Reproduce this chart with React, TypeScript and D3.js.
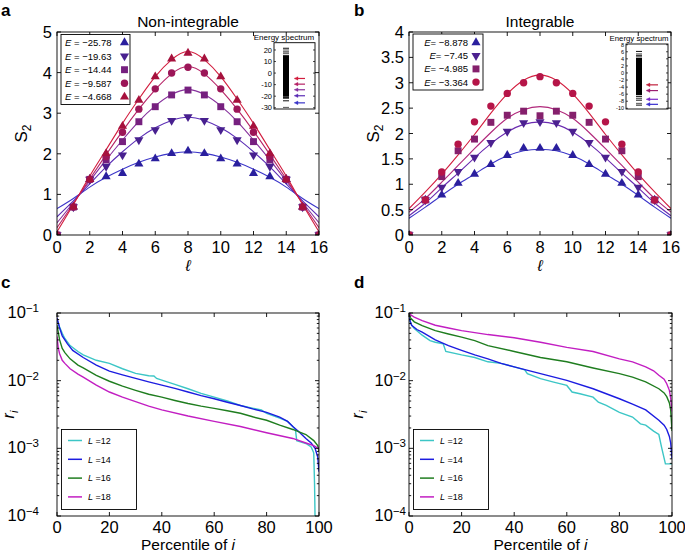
import React from 'react';
import * as d3 from 'd3';

const FONT = '"Liberation Sans", Arial, Helvetica, sans-serif';

// ---------------- data ----------------
const ellValues = [0, 1, 2, 3, 4, 5, 6, 7, 8, 9, 10, 11, 12, 13, 14, 15, 16];

// panel a (non-integrable)
const nonIntEnergyLabels = ['−25.78', '−19.63', '−14.44', '−9.587', '−4.668'];
const nonIntEnergies = [-25.78, -19.63, -14.44, -9.587, -4.668];
const nonIntPoints = [
  [0, 0.69, 1.37, 1.44, 1.52, 1.75, 1.88, 2.01, 2.07, 2.01, 1.88, 1.75, 1.52, 1.44, 1.37, 0.69, 0],
  [0, 0.69, 1.37, 1.69, 1.97, 2.34, 2.59, 2.82, 2.91, 2.82, 2.59, 2.34, 1.97, 1.69, 1.37, 0.69, 0],
  [0, 0.69, 1.37, 1.85, 2.30, 2.79, 3.16, 3.45, 3.57, 3.45, 3.16, 2.79, 2.30, 1.85, 1.37, 0.69, 0],
  [0, 0.69, 1.37, 1.93, 2.53, 3.10, 3.60, 3.99, 4.13, 3.99, 3.60, 3.10, 2.53, 1.93, 1.37, 0.69, 0],
  [0, 0.69, 1.37, 2.01, 2.68, 3.32, 3.90, 4.34, 4.48, 4.34, 3.90, 3.32, 2.68, 2.01, 1.37, 0.69, 0],
];
const nonIntFits = [
  [0.65, 0.90, 1.18, 1.42, 1.62, 1.79, 1.92, 2.01, 2.05, 2.01, 1.92, 1.79, 1.62, 1.42, 1.18, 0.90, 0.65],
  [0.45, 0.84, 1.26, 1.68, 2.05, 2.38, 2.64, 2.82, 2.90, 2.82, 2.64, 2.38, 2.05, 1.68, 1.26, 0.84, 0.45],
  [0.30, 0.80, 1.33, 1.85, 2.34, 2.80, 3.18, 3.46, 3.58, 3.46, 3.18, 2.80, 2.34, 1.85, 1.33, 0.80, 0.30],
  [0.18, 0.77, 1.38, 1.98, 2.56, 3.10, 3.58, 3.97, 4.15, 3.97, 3.58, 3.10, 2.56, 1.98, 1.38, 0.77, 0.18],
  [0.08, 0.75, 1.45, 2.10, 2.75, 3.35, 3.90, 4.32, 4.52, 4.32, 3.90, 3.35, 2.75, 2.10, 1.45, 0.75, 0.08],
];
const nonIntMarkers = ['up', 'down', 'square', 'circle', 'up'];
const nonIntMarkerColors = ['#2a1f9e', '#48208f', '#76207f', '#9c1658', '#a6113d'];
const nonIntLineColors = ['#3b35c9', '#5a2cb5', '#86309c', '#b62366', '#d21d3e'];
const nonIntSpectrumBand = [-20.5, 15.5];
const nonIntSpectrumLevels = [21.5, 20, 18.3, 16.8, -21.2, -22, -24, -29.7];
const nonIntInsetTicks = [20, 10, 0, -10, -20, -30];

// panel b (integrable)
const intEnergyLabels = ['−8.878', '−7.45', '−4.985', '−3.364'];
const intEnergies = [-8.878, -7.45, -4.985, -3.364];
const intPoints = [
  [0, 0.69, 0.79, 1.02, 1.20, 1.39, 1.57, 1.71, 1.71, 1.71, 1.57, 1.39, 1.20, 1.02, 0.79, 0.69, 0],
  [0, 0.69, 0.94, 1.25, 1.53, 1.82, 2.04, 2.21, 2.23, 2.21, 2.04, 1.82, 1.53, 1.25, 0.94, 0.69, 0],
  [0, 0.69, 1.15, 1.66, 1.89, 2.22, 2.36, 2.44, 2.35, 2.44, 2.36, 2.22, 1.89, 1.66, 1.15, 0.69, 0],
  [0, 0.69, 1.24, 1.79, 2.23, 2.54, 2.79, 3.00, 3.12, 3.00, 2.79, 2.54, 2.23, 1.79, 1.24, 0.69, 0],
];
const intFits = [
  [0.33, 0.55, 0.78, 1.00, 1.20, 1.40, 1.56, 1.66, 1.69, 1.66, 1.56, 1.40, 1.20, 1.00, 0.78, 0.55, 0.33],
  [0.38, 0.63, 0.93, 1.22, 1.52, 1.80, 2.03, 2.18, 2.23, 2.18, 2.03, 1.80, 1.52, 1.22, 0.93, 0.63, 0.38],
  [0.45, 0.72, 1.04, 1.37, 1.70, 2.02, 2.30, 2.47, 2.53, 2.47, 2.30, 2.02, 1.70, 1.37, 1.04, 0.72, 0.45],
  [0.52, 0.85, 1.20, 1.58, 1.98, 2.40, 2.78, 3.05, 3.15, 3.05, 2.78, 2.40, 1.98, 1.58, 1.20, 0.85, 0.52],
];
const intMarkers = ['up', 'down', 'square', 'circle'];
const intMarkerColors = ['#2a1f9e', '#4c2190', '#85206c', '#b51548'];
const intLineColors = ['#3b35c9', '#6a2ab0', '#b0277a', '#d21d3e'];
const intArrowColors = ['#3a30d0', '#7a28c8', '#9c2070', '#c0203c'];
const intSpectrumBand = [-6.3, 4.3];
const intSpectrumLevels = [6.1, 5.4, 5.0, 4.6, -6.7, -7.2, -7.7, -8.6, -9.1];
const intInsetTicks = [8, 6, 4, 2, 0, -2, -4, -6, -8, -10];

// panels c, d
const sizeLabels = ['12', '14', '16', '18'];
const sizeColors = ['#3cc6c6', '#1c1ce0', '#1f7d1f', '#c21ec2'];

const chaoticPct = [
  [0, 1, 2, 3, 5, 8, 10, 15, 20, 25, 30, 35, 37, 38, 40, 45, 50, 55, 60, 65, 70, 75, 78, 80, 85, 88, 90, 91, 91.5, 95, 97, 97.5, 98, 98.3, 98.6],
  [0, 1, 2, 4, 6, 10, 15, 20, 25, 30, 35, 40, 45, 50, 55, 60, 65, 70, 75, 80, 85, 88, 90, 92, 95, 97, 98.5, 99.5, 100],
  [0, 1, 2, 3, 5, 8, 10, 15, 20, 25, 30, 35, 40, 45, 50, 55, 60, 65, 70, 75, 80, 85, 90, 95, 98, 99.5, 100],
  [0, 0.5, 1, 2, 3, 5, 8, 10, 15, 20, 25, 30, 35, 40, 50, 60, 70, 80, 90, 95, 98, 100],
];
const chaoticR = [
  [0.078, 0.062, 0.05, 0.042, 0.033, 0.027, 0.024, 0.020, 0.018, 0.015, 0.0128, 0.0118, 0.0117, 0.0108, 0.0102, 0.0088, 0.0076, 0.0065, 0.0057, 0.005, 0.0043, 0.0039, 0.0037, 0.0033, 0.0028, 0.0025, 0.0021, 0.0019, 0.0013, 0.00118, 0.00105, 0.00095, 0.00085, 0.0003, 0.00005],
  [0.085, 0.06, 0.046, 0.035, 0.028, 0.022, 0.017, 0.0138, 0.0122, 0.0108, 0.0096, 0.0086, 0.0077, 0.0068, 0.006, 0.0054, 0.0048, 0.0043, 0.0038, 0.0034, 0.0029, 0.0025, 0.0021, 0.0018, 0.0014, 0.0012, 0.001, 0.00075, 0.00045],
  [0.066, 0.04, 0.03, 0.026, 0.021, 0.017, 0.0155, 0.012, 0.0098, 0.0083, 0.0072, 0.0063, 0.0057, 0.0051, 0.0046, 0.0042, 0.0039, 0.0036, 0.0033, 0.0029, 0.0026, 0.0022, 0.0019, 0.0016, 0.0013, 0.0011, 0.0009],
  [0.045, 0.03, 0.025, 0.02, 0.018, 0.015, 0.0125, 0.0113, 0.0086, 0.0068, 0.0057, 0.0049, 0.0042, 0.0037, 0.003, 0.0025, 0.0021, 0.0017, 0.0014, 0.0012, 0.0011, 0.00098],
];
const integrablePct = [
  [0, 1, 2, 5, 8, 10, 13, 14, 20, 25, 30, 35, 40, 44, 45, 50, 55, 60, 62, 65, 70, 72, 75, 80, 85, 88, 90, 93, 95, 96, 97.5, 100],
  [0, 0.5, 1, 3, 5, 10, 15, 20, 25, 30, 35, 40, 50, 60, 70, 80, 85, 90, 95, 97, 98, 99, 99.5, 100],
  [0, 0.5, 2, 5, 10, 15, 20, 25, 30, 40, 50, 60, 70, 80, 85, 90, 95, 97, 98, 99, 99.5, 100],
  [0, 0.5, 2, 5, 10, 15, 20, 30, 40, 50, 60, 70, 80, 85, 90, 93, 95, 97, 98, 99, 99.5, 100],
];
const integrableR = [
  [0.082, 0.066, 0.059, 0.047, 0.039, 0.037, 0.035, 0.027, 0.024, 0.022, 0.019, 0.018, 0.016, 0.0145, 0.0127, 0.0107, 0.0095, 0.0085, 0.0068, 0.0064, 0.0057, 0.0048, 0.0043, 0.0034, 0.0029, 0.0023, 0.0022, 0.0018, 0.0016, 0.00105, 0.00059, 0.00059],
  [0.087, 0.075, 0.066, 0.057, 0.052, 0.04, 0.033, 0.028, 0.024, 0.021, 0.018, 0.016, 0.0127, 0.0101, 0.0076, 0.0054, 0.0045, 0.0037, 0.0026, 0.0022, 0.0019, 0.0015, 0.0012, 0.0007],
  [0.098, 0.085, 0.074, 0.065, 0.055, 0.049, 0.044, 0.039, 0.033, 0.027, 0.022, 0.019, 0.0154, 0.0127, 0.0113, 0.0096, 0.0076, 0.0066, 0.0058, 0.0047, 0.0037, 0.0018],
  [0.11, 0.095, 0.087, 0.077, 0.066, 0.06, 0.055, 0.048, 0.043, 0.037, 0.031, 0.027, 0.021, 0.019, 0.016, 0.014, 0.012, 0.0105, 0.009, 0.0072, 0.0055, 0.0035],
];

const ellTicks = [0, 2, 4, 6, 8, 10, 12, 14, 16];
const nonIntYTicks = [0, 1, 2, 3, 4, 5];
const intYTicks = [0, 0.5, 1, 1.5, 2, 2.5, 3, 3.5, 4];
const pctTicks = [0, 20, 40, 60, 80, 100];
const decadeTicks = [1e-4, 1e-3, 1e-2, 1e-1];
const decadeLabels = ['−4', '−3', '−2', '−1'];

// ---------------- helpers ----------------
type Box = { l: number; r: number; t: number; b: number };
const TICK_FS = 16.5;

function markerShape(kind: string, x: number, y: number, color: string, key: string) {
  if (kind === 'circle') return <circle key={key} cx={x} cy={y} r={3.7} fill={color} />;
  if (kind === 'square') {
    const p = d3.symbol().type(d3.symbolSquare).size(48)();
    return <path key={key} d={p || ''} transform={`translate(${x},${y})`} fill={color} />;
  }
  const p = d3.symbol().type(d3.symbolTriangle).size(36)();
  const rot = kind === 'down' ? ' rotate(180)' : '';
  return <path key={key} d={p || ''} transform={`translate(${x},${y})${rot}`} fill={color} />;
}

function Frame({ box, xs, ys, xTicks, yTicks, minorY = [] as number[] }: any) {
  const tl = 4;
  const el: any[] = [];
  xTicks.forEach((v: number, i: number) => {
    const x = xs(v);
    el.push(<line key={'xb' + i} x1={x} x2={x} y1={box.b} y2={box.b - tl} />);
    el.push(<line key={'xt' + i} x1={x} x2={x} y1={box.t} y2={box.t + tl} />);
  });
  yTicks.forEach((v: number, i: number) => {
    const y = ys(v);
    el.push(<line key={'yl' + i} x1={box.l} x2={box.l + tl} y1={y} y2={y} />);
    el.push(<line key={'yr' + i} x1={box.r} x2={box.r - tl} y1={y} y2={y} />);
  });
  minorY.forEach((v: number, i: number) => {
    const y = ys(v);
    el.push(<line key={'ml' + i} x1={box.l} x2={box.l + 2.2} y1={y} y2={y} />);
    el.push(<line key={'mr' + i} x1={box.r} x2={box.r - 2.2} y1={y} y2={y} />);
  });
  return (
    <g stroke="#000" strokeWidth={0.9} fill="none">
      {el}
      <rect x={box.l} y={box.t} width={box.r - box.l} height={box.b - box.t} />
    </g>
  );
}

function EntropyPanel({ id, box, yMax, yTicks, points, fits, markers, markerColors, lineColors, title, letter, letterX, labelX }: any) {
  const xs = d3.scaleLinear().domain([0, 16]).range([box.l, box.r]);
  const ys = d3.scaleLinear().domain([0, yMax]).range([box.b, box.t]);
  const line = d3.line<number>().x((_, i) => xs(ellValues[i])).y((d) => ys(d)).curve(d3.curveNatural);
  return (
    <g>
      <defs>
        <clipPath id={id}>
          <rect x={box.l} y={box.t} width={box.r - box.l} height={box.b - box.t} />
        </clipPath>
      </defs>
      <g clipPath={`url(#${id})`}>
        {fits.map((f: number[], s: number) => (
          <path key={'f' + s} d={line(f) || ''} fill="none" stroke={lineColors[s]} strokeWidth={1.1} />
        ))}
        {points.map((row: number[], s: number) =>
          row.map((v, i) => markerShape(markers[s], xs(ellValues[i]), ys(v), markerColors[s], `m${s}-${i}`))
        )}
      </g>
      <Frame box={box} xs={xs} ys={ys} xTicks={ellTicks} yTicks={yTicks} />
      <g fontFamily={FONT} fontSize={TICK_FS} fill="#000">
        {ellTicks.map((v) => (
          <text key={'xl' + v} x={xs(v)} y={box.b + 18} textAnchor="middle">{v}</text>
        ))}
        {yTicks.map((v: number) => (
          <text key={'yl' + v} x={box.l - 5} y={ys(v) + 6} textAnchor="end">{String(v)}</text>
        ))}
        <text x={(box.l + box.r) / 2} y={box.t - 5} textAnchor="middle" fontSize={15.5}>{title}</text>
        <text x={(box.l + box.r) / 2} y={box.b + 36} textAnchor="middle" fontStyle="italic" fontSize={16}>ℓ</text>
        <text transform={`translate(${labelX},${(box.t + box.b) / 2}) rotate(-90)`} textAnchor="middle" fontSize={17}>
          S<tspan fontSize={12} dy={4}>2</tspan>
        </text>
        <text x={letterX} y={16} fontWeight="bold" fontSize={17}>{letter}</text>
      </g>
    </g>
  );
}

function Inset({ box, domain, ticks, tickFont, band, levels, energies, arrowColors, specX, arrowX, titleX, titleFs }: any) {
  const ys = d3.scaleLinear().domain(domain).range([box.b, box.t]);
  return (
    <g>
      <rect x={box.l} y={box.t} width={box.r - box.l} height={box.b - box.t} fill="#fff" stroke="#000" strokeWidth={0.9} />
      <text x={titleX} y={box.t - 3} fontFamily={FONT} fontSize={titleFs} textAnchor="middle">Energy spectrum</text>
      {ticks.map((v: number) => (
        <g key={'it' + v}>
          <line x1={box.l} x2={box.l + 2} y1={ys(v)} y2={ys(v)} stroke="#000" strokeWidth={0.7} />
          <line x1={box.r} x2={box.r - 2} y1={ys(v)} y2={ys(v)} stroke="#000" strokeWidth={0.7} />
          <text x={box.l - 2} y={ys(v) + tickFont * 0.36} fontFamily={FONT} fontSize={tickFont} textAnchor="end">{v}</text>
        </g>
      ))}
      <rect x={specX[0]} y={ys(band[1])} width={specX[1] - specX[0]} height={ys(band[0]) - ys(band[1])} fill="#000" />
      {levels.map((v: number, i: number) => (
        <rect key={'lv' + i} x={specX[0]} y={ys(v) - 0.5} width={specX[1] - specX[0]} height={1} fill={i % 2 ? '#555' : '#111'} />
      ))}
      {energies.map((e: number, i: number) => {
        const y = ys(e);
        return (
          <g key={'ar' + i} stroke={arrowColors[i]} fill={arrowColors[i]}>
            <line x1={arrowX[1]} x2={arrowX[0] + 3} y1={y} y2={y} strokeWidth={1.2} />
            <path d={`M${arrowX[0]},${y} L${arrowX[0] + 4},${y - 1.8} L${arrowX[0] + 4},${y + 1.8} Z`} strokeWidth={0.3} />
          </g>
        );
      })}
    </g>
  );
}

function LogPanel({ id, box, pcts, vals, letter, letterX, ylabX, ytlX }: any) {
  const xs = d3.scaleLinear().domain([0, 100]).range([box.l, box.r]);
  const ys = d3.scaleLog().domain([1e-4, 1e-1]).range([box.b, box.t]);
  const minor: number[] = [];
  [1e-4, 1e-3, 1e-2].forEach((d) => { for (let k = 2; k <= 9; k++) minor.push(d * k); });
  return (
    <g>
      <defs>
        <clipPath id={id}>
          <rect x={box.l} y={box.t} width={box.r - box.l} height={box.b - box.t} />
        </clipPath>
      </defs>
      <g clipPath={`url(#${id})`}>
        {pcts.map((p: number[], s: number) => {
          const ln = d3.line<number>().x((d) => xs(d)).y((_, i) => ys(Math.max(vals[s][i], 1e-6)));
          return <path key={'l' + s} d={ln(p) || ''} fill="none" stroke={sizeColors[s]} strokeWidth={1.4} />;
        })}
      </g>
      <Frame box={box} xs={xs} ys={ys} xTicks={pctTicks} yTicks={decadeTicks} minorY={minor} />
      <g fontFamily={FONT} fontSize={TICK_FS} fill="#000">
        {pctTicks.map((v) => (
          <text key={'xl' + v} x={xs(v)} y={box.b + 17} textAnchor="middle">{v}</text>
        ))}
        {decadeTicks.map((v, i) => (
          <text key={'yl' + i} x={ytlX} y={ys(v) + 5} textAnchor="end">
            10<tspan fontSize={11.5} dy={-6}>{decadeLabels[i]}</tspan>
          </text>
        ))}
        <text x={(box.l + box.r) / 2} y={box.b + 33.5} textAnchor="middle" fontSize={15.5}>
          Percentile of <tspan fontStyle="italic">i</tspan>
        </text>
        <text transform={`translate(${ylabX},${(box.t + box.b) / 2}) rotate(-90)`} textAnchor="middle" fontSize={16} fontStyle="italic">
          r<tspan fontSize={11} dy={4}>i</tspan>
        </text>
        <text x={letterX} y={box.t - 25} fontWeight="bold" fontSize={17}>{letter}</text>
      </g>
      <g>
        <rect x={box.l + 4.5} y={429.5} width={75} height={80} fill="#fff" stroke="#000" strokeWidth={0.9} />
        {sizeLabels.map((lab, i) => {
          const y = 440.5 + i * 18.8;
          return (
            <g key={'lg' + i}>
              <line x1={box.l + 11} x2={box.l + 25} y1={y} y2={y} stroke={sizeColors[i]} strokeWidth={1.5} />
              <text x={box.l + 31} y={y + 3.2} fontFamily={FONT} fontSize={9}>
                <tspan fontStyle="italic">L</tspan> ={lab}
              </text>
            </g>
          );
        })}
      </g>
    </g>
  );
}

export default function App() {
  const boxA: Box = { l: 57, r: 319, t: 32, b: 235 };
  const boxB: Box = { l: 409, r: 671, t: 32, b: 235 };
  const boxC: Box = { l: 57, r: 319, t: 313, b: 516 };
  const boxD: Box = { l: 409, r: 672, t: 313, b: 516 };
  return (
    <svg width={685} height={553} style={{ position: 'absolute', left: 0, top: 0, background: '#fff' }} fontFamily={FONT}>
      <rect width={685} height={553} fill="#fff" />
      <EntropyPanel id="clipA" box={boxA} yMax={5} yTicks={nonIntYTicks} points={nonIntPoints} fits={nonIntFits}
        markers={nonIntMarkers} markerColors={nonIntMarkerColors} lineColors={nonIntLineColors}
        title="Non-integrable" letter="a" letterX={1} labelX={27} />
      <EntropyPanel id="clipB" box={boxB} yMax={4} yTicks={intYTicks} points={intPoints} fits={intFits}
        markers={intMarkers} markerColors={intMarkerColors} lineColors={intLineColors}
        title="Integrable" letter="b" letterX={354} labelX={379} />

      {/* legend a */}
      <g fontFamily={FONT} fontSize={9.5}>
        <rect x={61} y={34.5} width={69} height={70} fill="#fff" stroke="#000" strokeWidth={0.9} />
        {nonIntEnergyLabels.map((lab, i) => {
          const y = 42.5 + i * 13.6;
          return (
            <g key={'la' + i}>
              <text x={65} y={y + 3.4}>
                <tspan fontStyle="italic">E</tspan> = {lab}
              </text>
              {markerShape(nonIntMarkers[i], 124.5, y, nonIntMarkerColors[i], 'lam' + i)}
            </g>
          );
        })}
      </g>
      {/* legend b */}
      <g fontFamily={FONT} fontSize={9.5}>
        <rect x={413} y={34} width={70} height={56} fill="#fff" stroke="#000" strokeWidth={0.9} />
        {intEnergyLabels.map((lab, i) => {
          const y = 42.5 + i * 13.2;
          return (
            <g key={'lb' + i}>
              <text x={468} y={y + 3.4} textAnchor="end">
                <tspan fontStyle="italic">E</tspan>= {lab}
              </text>
              {markerShape(intMarkers[i], 476, y, intMarkerColors[i], 'lbm' + i)}
            </g>
          );
        })}
      </g>

      <Inset box={{ l: 274, r: 315, t: 42.7, b: 109 }} domain={[-31.1, 26.3]} ticks={nonIntInsetTicks} tickFont={7.5}
        band={nonIntSpectrumBand} levels={nonIntSpectrumLevels} energies={nonIntEnergies}
        arrowColors={nonIntLineColors} specX={[283, 289]} arrowX={[294, 305]} titleX={284} titleFs={8} />
      <Inset box={{ l: 626, r: 668, t: 44, b: 109 }} domain={[-10.2, 8.2]} ticks={intInsetTicks} tickFont={5.5}
        band={intSpectrumBand} levels={intSpectrumLevels} energies={intEnergies}
        arrowColors={intArrowColors} specX={[636, 642]} arrowX={[646, 658]} titleX={639} titleFs={7.8} />

      <LogPanel id="clipC" box={boxC} pcts={chaoticPct} vals={chaoticR} letter="c" letterX={1} ylabX={14} ytlX={39} />
      <LogPanel id="clipD" box={boxD} pcts={integrablePct} vals={integrableR} letter="d" letterX={354} ylabX={363} ytlX={406} />
    </svg>
  );
}
